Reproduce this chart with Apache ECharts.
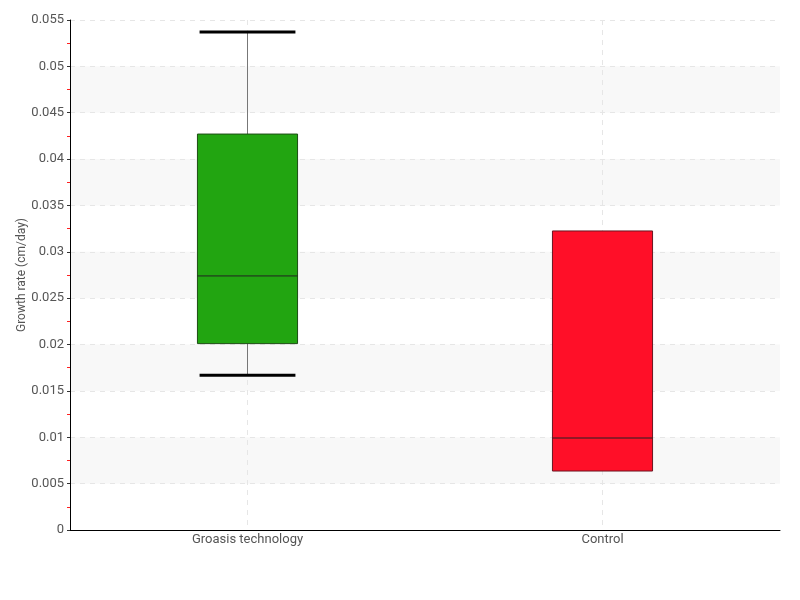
<!DOCTYPE html>
<html><head><meta charset="utf-8">
<script src="https://cdn.jsdelivr.net/npm/echarts@6/dist/echarts.min.js"></script>
<style>html,body{margin:0;padding:0;background:#fff}#c{width:800px;height:600px}</style>
</head><body><div id="c"></div>
<script>
const categories = ['Groasis technology', 'Control'];
const lowerWhisker = [0.0167, 0.00636];
const q1 = [0.0201, 0.00636];
const median = [0.0274, 0.00992];
const q3 = [0.0427, 0.03225];
const upperWhisker = [0.0537, 0.03225];
const boxColors = ['#22a511', '#ff0f28'];
const boxBorders = ['#1d4d14', '#6a1520'];

const data = categories.map((c, i) => [i, lowerWhisker[i], q1[i], median[i], q3[i], upperWhisker[i]]);

const chart = echarts.init(document.getElementById('c'));
const font = 'Roboto, sans-serif';
chart.setOption({
  animation: false,
  grid: {left: 70, right: 20, top: 20, bottom: 70},
  xAxis: {
    type: 'category', data: categories,
    axisLine: {lineStyle: {color: '#000', width: 1}},
    axisTick: {alignWithLabel: true, inside: true, length: 3, lineStyle: {color: '#444'}},
    axisLabel: {color: '#555', fontSize: 13, fontFamily: font, margin: 3},
    splitLine: {show: true, alignWithLabel: true, lineStyle: {color: '#e6e6e6', type: [5, 5]}}
  },
  yAxis: {
    type: 'value', min: 0, max: 0.055, interval: 0.005,
    name: 'Growth rate (cm/day)', nameLocation: 'middle', nameGap: 42, nameMoveOverlap: false,
    nameTextStyle: {color: '#555', fontSize: 12, fontFamily: font},
    axisLine: {show: true, lineStyle: {color: '#000', width: 1}},
    axisTick: {show: true, length: 3, lineStyle: {color: '#333'}},
    minorTick: {show: true, splitNumber: 2, length: 3, lineStyle: {color: '#ff2020'}},
    axisLabel: {color: '#555', fontSize: 13, fontFamily: font, margin: 6},
    splitLine: {show: true, lineStyle: {color: '#e6e6e6', type: [5, 5]}},
    splitArea: {show: true, areaStyle: {color: ['rgba(255,255,255,0)', '#f8f8f8']}}
  },
  series: [{
    type: 'custom',
    data: data,
    encode: {x: 0, y: [1, 2, 3, 4, 5]},
    renderItem: function (params, api) {
      const i = api.value(0);
      const band = api.size([1, 0])[0];
      const bw = band * 0.282;
      const cw = band * 0.27;
      const pLow = api.coord([i, api.value(1)]);
      const pQ1 = api.coord([i, api.value(2)]);
      const pMed = api.coord([i, api.value(3)]);
      const pQ3 = api.coord([i, api.value(4)]);
      const pHigh = api.coord([i, api.value(5)]);
      const x = pQ1[0];
      const children = [];
      if (api.value(5) > api.value(4)) {
        children.push({type: 'line', shape: {x1: x, y1: pHigh[1], x2: x, y2: pQ3[1]}, style: {stroke: '#777', lineWidth: 1}});
        children.push({type: 'line', shape: {x1: x - cw / 2, y1: pHigh[1], x2: x + cw / 2, y2: pHigh[1]}, style: {stroke: '#000', lineWidth: 3}});
      }
      if (api.value(1) < api.value(2)) {
        children.push({type: 'line', shape: {x1: x, y1: pQ1[1], x2: x, y2: pLow[1]}, style: {stroke: '#777', lineWidth: 1}});
        children.push({type: 'line', shape: {x1: x - cw / 2, y1: pLow[1], x2: x + cw / 2, y2: pLow[1]}, style: {stroke: '#000', lineWidth: 3}});
      }
      children.push({type: 'rect', shape: {x: x - bw / 2, y: pQ3[1], width: bw, height: pQ1[1] - pQ3[1]},
        style: {fill: boxColors[params.dataIndex], stroke: boxBorders[params.dataIndex], lineWidth: 1}});
      children.push({type: 'line', shape: {x1: x - bw / 2, y1: pMed[1], x2: x + bw / 2, y2: pMed[1]}, style: {stroke: '#222', lineWidth: 1}});
      return {type: 'group', children: children};
    }
  }]
});
</script></body></html>
